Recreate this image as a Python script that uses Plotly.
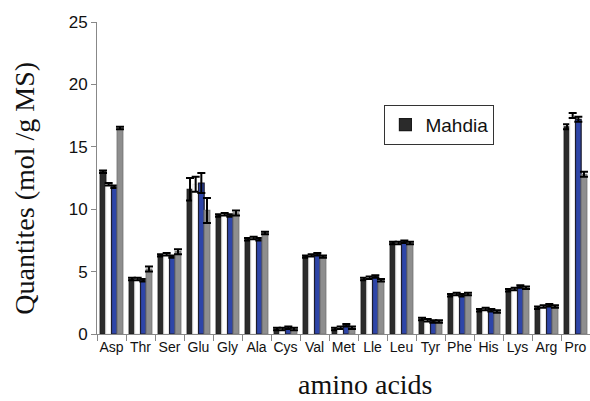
import plotly.graph_objects as go

categories = ["Asp", "Thr", "Ser", "Glu", "Gly", "Ala", "Cys", "Val", "Met", "Lle",
              "Leu", "Tyr", "Phe", "His", "Lys", "Arg", "Pro"]

s1 = [13.0, 4.4, 6.3, 11.6, 9.5, 7.6, 0.4, 6.2, 0.4, 4.4, 7.3, 1.2, 3.1, 1.9, 3.5, 2.1, 16.6]
s2 = [12.0, 4.4, 6.4, 12.0, 9.6, 7.7, 0.4, 6.3, 0.5, 4.5, 7.3, 1.1, 3.2, 2.0, 3.6, 2.2, 17.5]
s3 = [11.8, 4.3, 6.2, 12.1, 9.5, 7.6, 0.5, 6.4, 0.7, 4.6, 7.4, 1.0, 3.1, 1.9, 3.8, 2.3, 17.2]
s4 = [16.5, 5.2, 6.6, 9.9, 9.7, 8.1, 0.4, 6.2, 0.5, 4.3, 7.3, 1.0, 3.2, 1.8, 3.7, 2.2, 12.8]

e1 = [0.1, 0.1, 0.1, 0.9, 0.1, 0.1, 0.1, 0.1, 0.1, 0.1, 0.1, 0.1, 0.1, 0.1, 0.1, 0.1, 0.2]
e2 = [0.1, 0.1, 0.1, 0.6, 0.1, 0.1, 0.1, 0.1, 0.1, 0.1, 0.1, 0.1, 0.1, 0.1, 0.1, 0.1, 0.2]
e3 = [0.1, 0.1, 0.1, 0.8, 0.1, 0.1, 0.1, 0.1, 0.1, 0.1, 0.1, 0.1, 0.1, 0.1, 0.1, 0.1, 0.2]
e4 = [0.1, 0.2, 0.2, 1.0, 0.2, 0.1, 0.1, 0.1, 0.1, 0.1, 0.1, 0.1, 0.1, 0.1, 0.1, 0.1, 0.2]

x_title = "amino acids"
y_title = "Quantites (mol /g MS)"

series = [
    ("Mahdia", s1, e1, "#2b2b2b", "#1a1a1a", True),
    ("s2", s2, e2, "#ffffff", "#e8e8e8", False),
    ("s3", s3, e3, "#2e45a8", "#1c1c2c", False),
    ("s4", s4, e4, "#8e8e8e", "#7a7a7a", False),
]

fig = go.Figure()
for name, vals, errs, fill, edge, show in series:
    fig.add_trace(go.Bar(
        x=categories, y=vals, name=name, showlegend=show,
        marker=dict(color=fill, line=dict(color=edge, width=1.2)),
        error_y=dict(type="data", array=errs, visible=True, color="#000000",
                     thickness=2, width=4),
    ))

fig.update_layout(
    width=590, height=401,
    margin=dict(l=97, r=0, t=22, b=67),
    paper_bgcolor="white", plot_bgcolor="white",
    barmode="group", bargap=0.22, bargroupgap=0.0,
    showlegend=True,
    legend=dict(x=0.583, y=0.735, xanchor="left", yanchor="top",
                bgcolor="white", bordercolor="#333333", borderwidth=1,
                itemwidth=30, tracegroupgap=0,
                font=dict(family="Liberation Sans", size=19, color="#111111")),
    xaxis=dict(
        type="category", tickson="boundaries", ticks="outside", ticklen=6,
        tickcolor="#888888", showline=True, linecolor="#888888", linewidth=1,
        showgrid=False, tickangle=0, automargin=False,
        tickfont=dict(family="Liberation Sans", size=14, color="#111111"),
    ),
    yaxis=dict(
        range=[0, 25], dtick=5, ticks="outside", ticklen=5, tickcolor="#888888",
        showline=True, linecolor="#888888", linewidth=1, showgrid=False,
        zeroline=False, automargin=False,
        tickfont=dict(family="Liberation Sans", size=17, color="#111111"),
    ),
    annotations=[
        dict(text=x_title, xref="paper", yref="paper", x=0.544, y=-0.162,
             xanchor="center", yanchor="middle", showarrow=False,
             font=dict(family="Liberation Serif", size=28, color="#111111")),
        dict(text=y_title, xref="paper", yref="paper", x=-0.146, y=0.466,
             xanchor="center", yanchor="middle", showarrow=False, textangle=-90,
             font=dict(family="Liberation Serif", size=28, color="#111111")),
    ],
)

fig.write_html(
    "out.html",
    config={"displayModeBar": False},
    post_script="document.body.style.margin='0px';document.body.style.overflow='hidden';",
)
